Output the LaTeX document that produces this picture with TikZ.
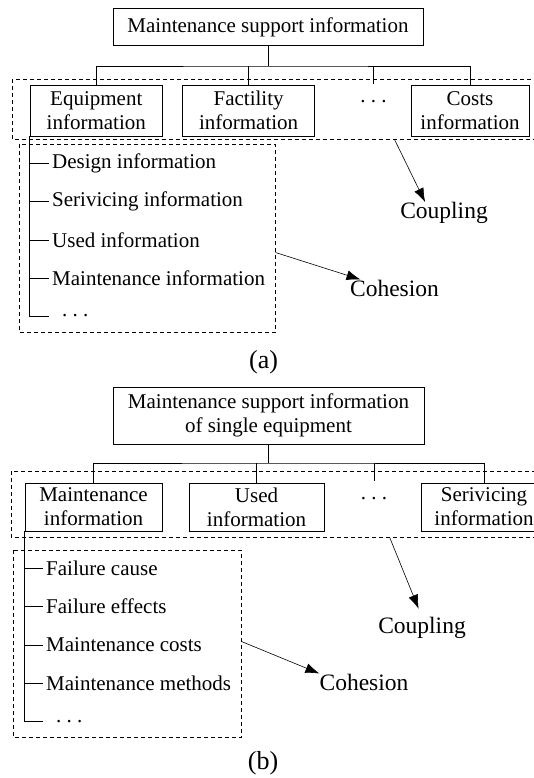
\documentclass[tikz,border=0pt]{standalone}
\usepackage{fontspec}
\setmainfont{Liberation Serif}
\usetikzlibrary{arrows.meta, positioning}
\tikzset{
    topbox/.style={rectangle, draw, line width=0.8pt, text centered, align=center, inner sep=2pt, font=\fontsize{21}{24}\selectfont},
    childbox/.style={rectangle, draw, line width=0.8pt, text centered, align=center, inner sep=1pt, font=\fontsize{21}{24}\selectfont},
    entry/.style={anchor=west, inner xsep=3pt, inner ysep=0pt, font=\fontsize{21}{24}\selectfont},
    gap/.style={inner sep=0pt, minimum height=36pt, font=\fontsize{21}{24}\selectfont},
    effect/.style={inner sep=0pt, font=\fontsize{23.5}{26}\selectfont},
    figtag/.style={inner sep=0pt, font=\fontsize{26}{28}\selectfont},
    link/.style={line width=0.8pt},
    group/.style={line width=0.8pt, dash pattern=on 4pt off 3pt},
    arrow/.style={-{Latex[length=14pt, width=10pt]}, line width=0.6pt}
}

\begin{document}
\begin{tikzpicture}[x=1pt, y=-1pt]
    \useasboundingbox (0,0) rectangle (533,778);

    % (a) Maintenance support information
    \node[topbox, minimum width=310pt, minimum height=37.5pt] (rootA) at (268,27) {Maintenance support information};
    \coordinate (busA) at (268,66);

    % Information classes
    \node[childbox, minimum width=132.6pt, minimum height=51pt] (equipA) at (96.3,110.5) {Equipment\\information};
    \node[childbox, minimum width=132pt, minimum height=51pt] (factA) at (248.6,110.5) {Factility\\information};
    \node[gap] (dotsA) at (373.5,102) {.\ .\ .};
    \node[childbox, minimum width=118pt, minimum height=51pt] (costA) at (470,110.5) {Costs\\information};

    \draw[link] (rootA.south) -- (busA);
    \draw[link] (equipA.north) |- (busA) -| (costA.north);
    \draw[link] (factA.north) -- (factA.north |- busA);
    \draw[link] (dotsA.north) -- (dotsA.north |- busA);

    % Items of equipment information
    \node[entry] (dA1) at (49,163) {Design information};
    \node[entry] (dA2) at (49,201) {Serivicing information};
    \node[entry] (dA3) at (49,240.5) {Used information};
    \node[entry] (dA4) at (49,278.6) {Maintenance information};
    \node[entry] (dA5) at (49,316) {\kern10pt.\ .\ .};
    \draw[link] (equipA.south west) |- (dA5.west);
    \foreach \i in {1,...,4}
        \draw[link] (equipA.south west |- dA\i.west) -- (dA\i.west);

    % Groups
    \draw[group] (12,79) rectangle (540,139.5);
    \draw[group] (19,144) rectangle (275.5,332);

    % Coupling and cohesion
    \node[effect] (coupA) at (444,213) {Coupling};
    \node[effect] (cohA) at (394.5,288) {Cohesion};
    \coordinate (cplA) at (394.5,139.5);
    \coordinate (chsA) at (275.5,252.5);
    \draw[arrow] (cplA) -- (coupA.150);
    \draw[arrow] (chsA) -- (cohA.166);

    \node[figtag] (capA) at (263.6,362) {(a)};

    % (b) Single equipment
    \node[topbox, minimum width=311pt, minimum height=57pt] (rootB) at (268.5,415.5) {Maintenance support information\\of single equipment};
    \coordinate (busB) at (268.5,463);

    \node[childbox, minimum width=137pt, minimum height=48pt] (maintB) at (93.5,507) {Maintenance\\information};
    \node[childbox, minimum width=135pt, minimum height=48pt] (usedB) at (256.5,507) {Used\\information};
    \node[gap] (dotsB) at (374,499) {.\ .\ .};
    \node[childbox, minimum width=126pt, minimum height=48pt] (servB) at (484,507) {Serivicing\\information};

    \draw[link] (rootB.south) -- (busB);
    \draw[link] (maintB.north) |- (busB) -| (servB.north);
    \draw[link] (usedB.north) -- (usedB.north |- busB);
    \draw[link] (dotsB.north) -- (dotsB.north |- busB);

    % Items of maintenance information
    \node[entry] (dB1) at (43,568) {Failure cause};
    \node[entry] (dB2) at (43,606) {Failure effects};
    \node[entry] (dB3) at (43,645) {Maintenance costs};
    \node[entry] (dB4) at (43,683) {Maintenance methods};
    \node[entry] (dB5) at (43,721.5) {\kern10pt.\ .\ .};
    \draw[link] (maintB.south west) |- (dB5.west);
    \foreach \i in {1,...,4}
        \draw[link] (maintB.south west |- dB\i.west) -- (dB\i.west);

    \draw[group] (11,471) rectangle (540,537);
    \draw[group] (13,550) rectangle (241.5,737);

    \node[effect] (coupB) at (422,628) {Coupling};
    \node[effect] (cohB) at (364,682) {Cohesion};
    \coordinate (cplB) at (389.5,537);
    \coordinate (chsB) at (241.5,641.5);
    \draw[arrow, shorten >=9pt] (cplB) -- (coupB.north);
    \draw[arrow] (chsB) -- (cohB.north west);

    \node[figtag] (capB) at (263,763) {(b)};
\end{tikzpicture}
\end{document}
